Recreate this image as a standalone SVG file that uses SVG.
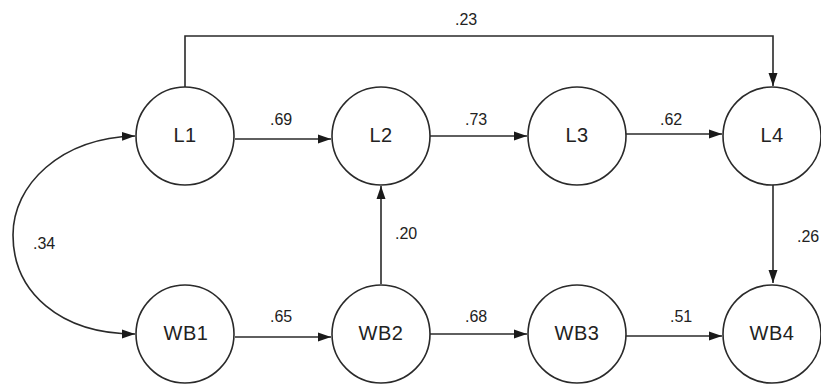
<svg xmlns="http://www.w3.org/2000/svg" width="821" height="385" viewBox="0 0 821 385">
<defs>
<style>
.node circle{fill:#fff;stroke:#2a2a2a;stroke-width:1.6}
.node text{font-family:"Liberation Sans",Arial,sans-serif;font-size:20px;fill:#222;text-anchor:middle;letter-spacing:0.5px}
.edge{fill:none;stroke:#2a2a2a;stroke-width:1.6}
.lbl{font-family:"Liberation Sans",Arial,sans-serif;font-size:16px;fill:#222}
</style>
<marker id="ah" markerUnits="userSpaceOnUse" markerWidth="14" markerHeight="10" refX="13" refY="5" orient="auto-start-reverse">
<path d="M0,0.5 L13,5 L0,9.5 Z" fill="#1a1a1a"/>
</marker>
</defs>
<g id="connectors">
<path class="edge" d="M185,87 V36 H773 V86" marker-end="url(#ah)"/>
<path class="edge" d="M235,139 H331" marker-end="url(#ah)"/>
<path class="edge" d="M430,136 H527" marker-end="url(#ah)"/>
<path class="edge" d="M626,134 H722" marker-end="url(#ah)"/>
<path class="edge" d="M235,337 H331" marker-end="url(#ah)"/>
<path class="edge" d="M430,334 H527" marker-end="url(#ah)"/>
<path class="edge" d="M626,336 H722" marker-end="url(#ah)"/>
<path class="edge" d="M381,284 V186" marker-end="url(#ah)"/>
<path class="edge" d="M773,185 V283" marker-end="url(#ah)"/>
<path class="edge" d="M135,136 C60,138 13,185 13,235 C13,292 60,334 135,334" marker-start="url(#ah)" marker-end="url(#ah)"/>
<text class="lbl" x="455" y="25">.23</text>
<text class="lbl" x="270" y="125">.69</text>
<text class="lbl" x="465" y="125">.73</text>
<text class="lbl" x="660" y="125">.62</text>
<text class="lbl" x="270" y="322">.65</text>
<text class="lbl" x="465" y="322">.68</text>
<text class="lbl" x="670" y="322">.51</text>
<text class="lbl" x="395" y="239">.20</text>
<text class="lbl" x="797" y="242">.26</text>
<text class="lbl" x="33" y="249">.34</text>
</g>
<g id="L1" class="node"><circle cx="185" cy="136" r="49"/><text x="185" y="142">L1</text></g>
<g id="L2" class="node"><circle cx="381" cy="136" r="49"/><text x="381" y="142">L2</text></g>
<g id="L3" class="node"><circle cx="577" cy="136" r="49"/><text x="577" y="142">L3</text></g>
<g id="L4" class="node"><circle cx="772" cy="136" r="49"/><text x="772" y="142">L4</text></g>
<g id="WB1" class="node"><circle cx="185" cy="334" r="49"/><text x="186" y="340">WB1</text></g>
<g id="WB2" class="node"><circle cx="381" cy="334" r="49"/><text x="381" y="340">WB2</text></g>
<g id="WB3" class="node"><circle cx="577" cy="334" r="49"/><text x="577" y="340">WB3</text></g>
<g id="WB4" class="node"><circle cx="772" cy="334" r="49"/><text x="772" y="340">WB4</text></g>
</svg>
